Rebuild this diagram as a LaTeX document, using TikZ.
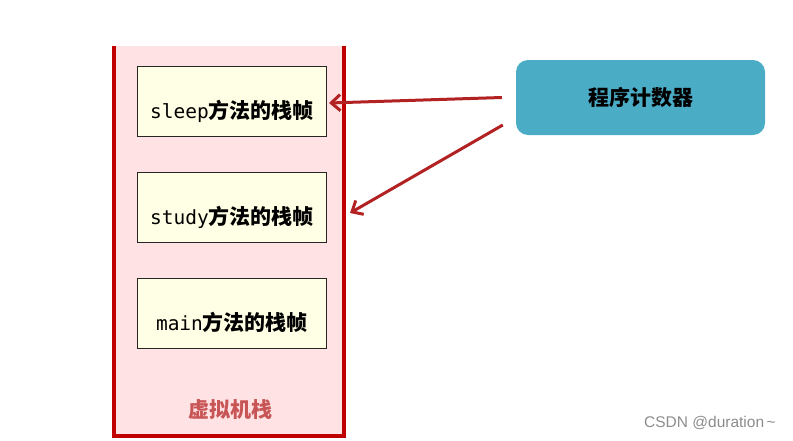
\documentclass[tikz,border=0pt]{standalone}
\usepackage{fontspec}
\setmonofont{DejaVu Sans Mono}
\newfontfamily\cjk{Noto Sans CJK SC}
\newfontfamily\wmfont{Liberation Sans}
\usetikzlibrary{positioning,arrows.meta}
\definecolor{stackred}{RGB}{192,0,0}
\definecolor{stackpink}{RGB}{255,226,228}
\definecolor{framefill}{RGB}{255,255,229}
\definecolor{pcblue}{RGB}{75,172,198}
\definecolor{ptrred}{RGB}{178,34,34}
\definecolor{stacklabel}{RGB}{200,85,85}
\tikzset{
    frame/.style={draw=black!85, line width=1pt, fill=framefill,
        minimum width=189pt, minimum height=70pt, inner sep=0pt},
    ptr/.style={ptrred, line width=3pt, -{Straight Barb[length=9pt,width=16pt,line width=3pt]}},
    big/.style={font=\cjk\bfseries\fontsize{21}{22}\selectfont},
}
\newcommand{\frametext}[2]{\raisebox{-16.5pt}[0pt][0pt]{\fontsize{19.5}{20}\selectfont\texttt{#1}{\cjk\bfseries\fontsize{21}{22}\selectfont #2}}}
\begin{document}
\begin{tikzpicture}[x=1pt,y=-1pt, node distance=35pt]
        \useasboundingbox (0,0) rectangle (793,440);
        % the stack
        \fill [stackpink](114,46) rectangle (344,436);
        \draw [stackred, line width=4pt](114,46) |- (344,436) -- (344,46);
        \node [frame] (sleep) at (232,101.5) {\frametext{sleep}{方法的栈帧}};
        \node [frame, below=of sleep] (study) {\frametext{study}{方法的栈帧}};
        \node [frame, below=of study] (main) {\frametext{main}{方法的栈帧}};
        \node [stacklabel, big] (vms) at (230,410) {虚拟机栈};
        % program counter
        \node [fill=pcblue, rounded corners=12pt, minimum width=249pt, minimum height=75pt, big] (pc) at (640.5,97.5) {程序计数器};
        \coordinate (nxt) at (350,213);
        \draw [ptr] ([xshift=-14pt]pc.west) -- ([xshift=2pt,yshift=-1.5pt]sleep.east);
        \draw [ptr] ([xshift=-13pt,yshift=-27.5pt]pc.west) -- (nxt);
        % watermark
        \node [black!45, font=\wmfont\fontsize{15.5}{17}\selectfont] (wm) at (710,423) {CSDN @duration\,\textasciitilde};
\end{tikzpicture}
\end{document}
